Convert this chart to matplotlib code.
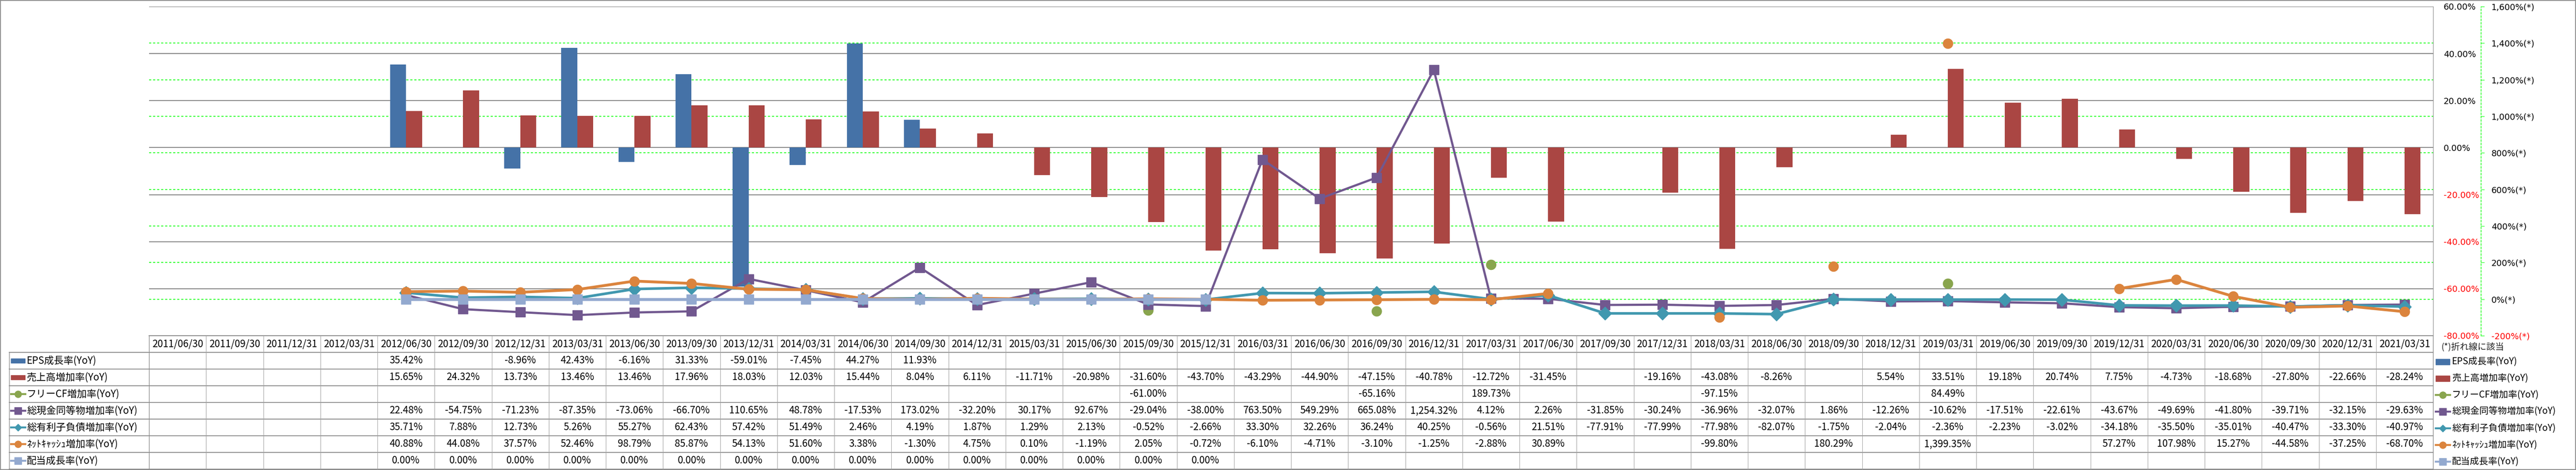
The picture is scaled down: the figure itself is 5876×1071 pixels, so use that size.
import numpy as np
import matplotlib
matplotlib.use("Agg")
import matplotlib.pyplot as plt
from matplotlib.transforms import blended_transform_factory
from matplotlib.patches import Rectangle
from matplotlib.ticker import FuncFormatter

plt.rcParams['font.family'] = ['Noto Sans CJK JP', 'DejaVu Sans']

# 四半期ラベル
dates = ["2011/06/30", "2011/09/30", "2011/12/31",
         "2012/03/31", "2012/06/30", "2012/09/30", "2012/12/31",
         "2013/03/31", "2013/06/30", "2013/09/30", "2013/12/31",
         "2014/03/31", "2014/06/30", "2014/09/30", "2014/12/31",
         "2015/03/31", "2015/06/30", "2015/09/30", "2015/12/31",
         "2016/03/31", "2016/06/30", "2016/09/30", "2016/12/31",
         "2017/03/31", "2017/06/30", "2017/09/30", "2017/12/31",
         "2018/03/31", "2018/06/30", "2018/09/30", "2018/12/31",
         "2019/03/31", "2019/06/30", "2019/09/30", "2019/12/31",
         "2020/03/31", "2020/06/30", "2020/09/30", "2020/12/31",
         "2021/03/31"]

N = None
# 棒グラフ (左軸)
eps = [N, N, N, N, 35.42, N, -8.96, 42.43, -6.16, 31.33, -59.01, -7.45, 44.27, 11.93,
       N, N, N, N, N, N, N, N, N, N, N, N, N, N, N, N, N, N, N, N, N, N, N, N, N, N]
sales = [N, N, N, N, 15.65, 24.32, 13.73, 13.46, 13.46, 17.96, 18.03, 12.03, 15.44, 8.04,
         6.11, -11.71, -20.98, -31.60, -43.70, -43.29, -44.90, -47.15, -40.78, -12.72,
         -31.45, N, -19.16, -43.08, -8.26, N, 5.54, 33.51, 19.18, 20.74, 7.75, -4.73,
         -18.68, -27.80, -22.66, -28.24]
# 折れ線 (右軸)
fcf = [N, N, N, N, N, N, N, N, N, N, N, N, N, N, N, N, N, -61.00, N, N, N, -65.16, N,
       189.73, N, N, N, -97.15, N, N, N, 84.49, N, N, N, N, N, N, N, N]
cash = [N, N, N, N, 22.48, -54.75, -71.23, -87.35, -73.06, -66.70, 110.65, 48.78, -17.53,
        173.02, -32.20, 30.17, 92.67, -29.04, -38.00, 763.50, 549.29, 665.08, 1254.32,
        4.12, 2.26, -31.85, -30.24, -36.96, -32.07, 1.86, -12.26, -10.62, -17.51, -22.61,
        -43.67, -49.69, -41.80, -39.71, -32.15, -29.63]
debt = [N, N, N, N, 35.71, 7.88, 12.73, 5.26, 55.27, 62.43, 57.42, 51.49, 2.46, 4.19,
        1.87, 1.29, 2.13, -0.52, -2.66, 33.30, 32.26, 36.24, 40.25, -0.56, 21.51, -77.91,
        -77.99, -77.98, -82.07, -1.75, -2.04, -2.36, -2.23, -3.02, -34.18, -35.50, -35.01,
        -40.47, -33.30, -40.97]
netcash = [N, N, N, N, 40.88, 44.08, 37.57, 52.46, 98.79, 85.87, 54.13, 51.60, 3.38, -1.30,
           4.75, 0.10, -1.19, 2.05, -0.72, -6.10, -4.71, -3.10, -1.25, -2.88, 30.89, N, N,
           -99.80, N, 180.29, N, 1399.35, N, N, 57.27, 107.98, 15.27, -44.58, -37.25, -68.70]
dividend = [N, N, N, N, 0.0, 0.0, 0.0, 0.0, 0.0, 0.0, 0.0, 0.0, 0.0, 0.0, 0.0, 0.0, 0.0,
            0.0, 0.0, N, N, N, N, N, N, N, N, N, N, N, N, N, N, N, N, N, N, N, N, N]

names = ["EPS成長率(YoY)", "売上高増加率(YoY)", "フリーCF増加率(YoY)", "総現金同等物増加率(YoY)",
         "総有利子負債増加率(YoY)", "ﾈｯﾄｷｬｯｼｭ増加率(YoY)", "配当成長率(YoY)"]
colors = ["#4572A7", "#AA4643", "#89A54E", "#71588F", "#4198AF", "#DB843D", "#93A9CF"]
markers = [None, None, "o", "s", "D", "o", "s"]
msizes = [0, 0, 16, 15.5, 15.5, 16, 15.5]
series = [eps, sales, fcf, cash, debt, netcash, dividend]


def arr(v):
    return np.array([np.nan if a is None else a for a in v], dtype=float)


W, H, DPI = 5876, 1071, 100
fig = plt.figure(figsize=(W / DPI, H / DPI), dpi=DPI, facecolor="white")

# プロット領域 (ピクセル)
L, R, T, B = 340, 5550, 15, 765
ax1 = fig.add_axes([L / W, 1 - B / H, (R - L) / W, (B - T) / H])
ax2 = ax1.twinx()
x = np.arange(len(dates))

bw = 0.28
ax1.bar(x - bw / 2, arr(eps), width=bw, color=colors[0], zorder=2)
ax1.bar(x + bw / 2, arr(sales), width=bw, color=colors[1], zorder=2)

lws = [0, 0, 4.5, 3.6, 4.3, 4.6, 4.8]
for k in range(2, 7):
    ax2.plot(x, arr(series[k]), color=colors[k], lw=lws[k], marker=markers[k],
             ms=msizes[k], mec=colors[k], mfc=colors[k], solid_joinstyle="round")

ax1.set_xlim(-0.5, len(dates) - 0.5)
ax1.set_ylim(-80, 60)
ax2.set_ylim(-200, 1600)
ax1.set_xticks([])

# グリッド
ax1.set_yticks(np.arange(-80, 61, 20))
ax1.grid(axis="y", color="#868686", lw=1.5)
ax1.set_axisbelow(True)
gtr = blended_transform_factory(ax1.transAxes, ax2.transData)
for v in np.arange(-200, 1601, 200):
    ax1.plot([0, 1], [v, v], transform=gtr, color="#00FF00", lw=1.2,
             ls=(0, (3, 2.5)), zorder=0.4)
ax1.set_xlim(-0.5, len(dates) - 0.5)
ax1.set_ylim(-80, 60)

for sp in ax1.spines.values():
    sp.set_visible(False)
for name in ["top", "bottom", "left"]:
    ax2.spines[name].set_visible(False)

# 左軸 (右側に表示)
ax1.yaxis.tick_right()
ax1.yaxis.set_major_formatter(FuncFormatter(lambda v, p: f"{v:.2f}%"))
ax1.tick_params(axis="y", length=0, pad=17, labelsize=14, labelfontfamily="DejaVu Sans")
for t, v in zip(ax1.get_yticklabels(), np.arange(-80, 61, 20)):
    t.set_color("#FF0000" if v < 0 else "black")

# 右軸 (折れ線)
ax2.set_yticks(np.arange(-200, 1601, 200))
ax2.yaxis.set_major_formatter(FuncFormatter(lambda v, p: f"{v:,.0f}%(*)"))
ax2.spines["right"].set_position(("outward", 109 * 72 / DPI))
ax2.spines["right"].set_color("#00FF00")
ax2.spines["right"].set_linestyle((0, (3, 2.5)))
ax2.spines["right"].set_linewidth(1.0)
ax2.tick_params(axis="y", color="#00FF00", length=6, width=0.8, pad=11,
                labelsize=14, labelfontfamily="DejaVu Sans")
for t, v in zip(ax2.get_yticklabels(), np.arange(-200, 1601, 200)):
    t.set_color("#FF0000" if v < 0 else "black")

# データテーブル
tb = fig.add_axes([0, 0, 1, 1], zorder=-1)
tb.set_xlim(0, W)
tb.set_ylim(H, 0)
tb.axis("off")
ttr = blended_transform_factory(ax1.transData, tb.transData)

head_top, row_top, row_h, nrows = 765, 803, 38, 7
bottom = row_top + row_h * nrows
line_c = "#8C8C8C"

tb.plot([L, R], [head_top, head_top], color=line_c, lw=1.4)
for k in range(nrows + 1):
    yy = row_top + row_h * k
    tb.plot([21, R], [yy, yy], color=line_c, lw=1.4)
for b in np.arange(-0.5, len(dates)):
    tb.plot([b, b], [head_top, bottom], transform=ttr, color="#A0A0A0", lw=0.8)
tb.plot([L, L], [head_top, bottom], color=line_c, lw=1.0)
tb.plot([21, 21], [row_top, bottom], color=line_c, lw=1.0)
tb.plot([R, R], [T, bottom], color=line_c, lw=1.0)
tb.add_patch(Rectangle((1, 1), W - 2, H - 2, fill=False, ec="#8C8C8C", lw=1.4))

for i, d in enumerate(dates):
    tb.text(i, (head_top + row_top) / 2, d, transform=ttr, ha="center", va="center",
            fontsize=16)

for k, vals in enumerate(series):
    yc = row_top + row_h * (k + 0.5)
    for i, v in enumerate(vals):
        if v is not None:
            tb.text(i, yc, f"{v:,.2f}%", transform=ttr, ha="center", va="center",
                    fontsize=16)


def legend_key(xl, yc, k, rect_h):
    if markers[k] is None:
        tb.add_patch(Rectangle((xl + 2, yc - rect_h / 2), 32, rect_h, color=colors[k]))
    else:
        tb.plot([xl, xl + 37], [yc, yc], color=colors[k], lw=3.2, solid_capstyle="butt")
        tb.plot([xl + 18.5], [yc], marker=markers[k], color=colors[k],
                ms=11 if markers[k] != "D" else 8.5, mec=colors[k])


for k, name in enumerate(names):
    yc = row_top + row_h * (k + 0.5)
    legend_key(23, yc, k, 10)
    tb.text(61, yc, name, ha="left", va="center", fontsize=16)
    yr = yc + 2
    legend_key(5554, yr, k, 13)
    tb.text(5593, yr, name, ha="left", va="center", fontsize=15)

tb.text(5568, 792, "(*)折れ線に該当", ha="left", va="center", fontsize=14.5, color="#222222")

fig.savefig("out.png", dpi=DPI)
